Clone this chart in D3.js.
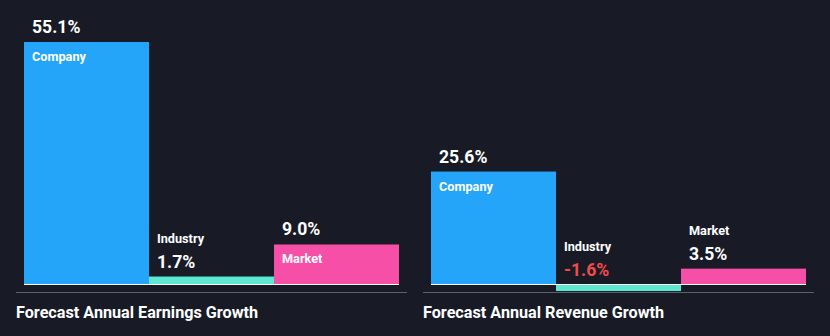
<!DOCTYPE html>
<html><head><meta charset="utf-8">
<script src="https://cdn.jsdelivr.net/npm/d3@7"></script>
<style>html,body{margin:0;padding:0;background:#181b26;}svg{display:block;}</style>
</head><body>
<script>
const categories = ["Company", "Industry", "Market"];
const earningsValues = [55.1, 1.7, 9.0];
const revenueValues = [25.6, -1.6, 3.5];
const panelTitles = ["Forecast Annual Earnings Growth", "Forecast Annual Revenue Growth"];
const colors = ["#24a5f9", "#5ee8d4", "#f64fa7"];

const W = 830, H = 336;
const svg = d3.select("body").append("svg").attr("width", W).attr("height", H)
  .style("font-family", "Roboto, 'Open Sans', sans-serif");
svg.append("rect").attr("width", W).attr("height", H).attr("fill", "#181b26");

const y = d3.scaleLinear().domain([0, 55.1]).range([284, 42]);

const panels = [
  {values: earningsValues, title: panelTitles[0], x0: 24, sepX0: 16, sepX1: 407},
  {values: revenueValues, title: panelTitles[1], x0: 431, sepX0: 423, sepX1: 814}
];

panels.forEach(p => {
  const x = d3.scaleBand().domain(categories).range([p.x0, p.x0 + 375]).padding(0);
  const g = svg.append("g");
  categories.forEach((c, i) => {
    const v = p.values[i];
    const top = y(Math.max(v, 0)), bot = y(Math.min(v, 0));
    g.append("rect").attr("x", x(c)).attr("y", top).attr("width", x.bandwidth())
      .attr("height", Math.max(bot - top, 1)).attr("fill", colors[i]);
    const h = y(0) - y(v);
    const tx = x(c) + 8;
    const valStr = v.toFixed(1) + "%";
    const valColor = v < 0 ? "#f24b4b" : "#ffffff";
    if (h > 30) {
      g.append("text").attr("x", tx).attr("y", top - 9).attr("fill", valColor)
        .attr("font-size", 17.6).attr("font-weight", 700).text(valStr);
      g.append("text").attr("x", tx).attr("y", top + 19).attr("fill", "#ffffff")
        .attr("font-size", 12.7).attr("font-weight", 700).text(c);
    } else {
      const ref = Math.min(top, y(0));
      g.append("text").attr("x", tx).attr("y", ref - 8.5).attr("fill", valColor)
        .attr("font-size", 17.6).attr("font-weight", 700).text(valStr);
      g.append("text").attr("x", tx).attr("y", ref - 33.5).attr("fill", "#ffffff")
        .attr("font-size", 12.7).attr("font-weight", 700).text(c);
    }
  });
  g.append("line").attr("x1", p.x0).attr("x2", p.x0 + 375).attr("y1", y(0) + 0.5).attr("y2", y(0) + 0.5)
    .attr("stroke", "#ffffff").attr("stroke-width", 1);
  g.append("line").attr("x1", p.sepX0).attr("x2", p.sepX1).attr("y1", 292.5).attr("y2", 292.5)
    .attr("stroke", "#5c606a").attr("stroke-width", 1);
  g.append("text").attr("x", p.sepX0).attr("y", 318).attr("fill", "#ffffff")
    .attr("font-size", 16.2).attr("font-weight", 700).text(p.title);
});
</script>
</body></html>
